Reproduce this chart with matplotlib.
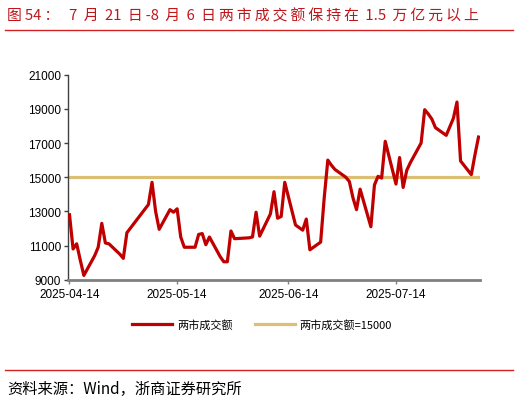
import matplotlib
matplotlib.use("Agg")
import matplotlib.pyplot as plt
import matplotlib.dates as mdates
from matplotlib.lines import Line2D
import pandas as pd

plt.rcParams['font.family'] = ['Noto Sans CJK SC', 'DejaVu Sans']

# 两市成交额（亿元），交易日
dates = [
    "2025-04-14", "2025-04-15", "2025-04-16", "2025-04-17", "2025-04-18",
    "2025-04-21", "2025-04-22", "2025-04-23", "2025-04-24", "2025-04-25",
    "2025-04-28", "2025-04-29", "2025-04-30",
    "2025-05-06", "2025-05-07", "2025-05-08", "2025-05-09",
    "2025-05-12", "2025-05-13", "2025-05-14", "2025-05-15", "2025-05-16",
    "2025-05-19", "2025-05-20", "2025-05-21", "2025-05-22", "2025-05-23",
    "2025-05-26", "2025-05-27", "2025-05-28", "2025-05-29", "2025-05-30",
    "2025-06-03", "2025-06-04", "2025-06-05", "2025-06-06",
    "2025-06-09", "2025-06-10", "2025-06-11", "2025-06-12", "2025-06-13",
    "2025-06-16", "2025-06-17", "2025-06-18", "2025-06-19", "2025-06-20",
    "2025-06-23", "2025-06-24", "2025-06-25", "2025-06-26", "2025-06-27",
    "2025-06-30", "2025-07-01", "2025-07-02", "2025-07-03", "2025-07-04",
    "2025-07-07", "2025-07-08", "2025-07-09", "2025-07-10", "2025-07-11",
    "2025-07-14", "2025-07-15", "2025-07-16", "2025-07-17", "2025-07-18",
    "2025-07-21", "2025-07-22", "2025-07-23", "2025-07-24", "2025-07-25",
    "2025-07-28", "2025-07-29", "2025-07-30", "2025-07-31", "2025-08-01",
    "2025-08-04", "2025-08-05", "2025-08-06",
]
turnover = [
    12800, 10800, 11100, 10150, 9250,
    10400, 10900, 12300, 11150, 11100,
    10500, 10250, 11750,
    13400, 14700, 13000, 11950,
    13100, 12950, 13150, 11500, 10900,
    10900, 11650, 11700, 11050, 11500,
    10350, 10050, 10050, 11850, 11400,
    11450, 11500, 12950, 11550,
    12850, 14150, 12600, 12700, 14700,
    12200, 12050, 11900, 12550, 10750,
    11200, 13800, 16000, 15700, 15450,
    15000, 14750, 13800, 13100, 14300,
    12100, 14550, 15050, 14950, 17100,
    14600, 16150, 14400, 15400, 15850,
    17000, 18950, 18700, 18400, 17900,
    17450, 17950, 18450, 19400, 15950,
    15150, 16300, 17350,
]
threshold = 15000
x_ticks = ["2025-04-14", "2025-05-14", "2025-06-14", "2025-07-14"]
y_ticks = [9000, 11000, 13000, 15000, 17000, 19000, 21000]

title = "图54：  7 月 21 日-8 月 6 日两市成交额保持在 1.5 万亿元以上"
source = "资料来源：Wind，浙商证券研究所"


def spaced(s):
    # 中文字符之间加细空格，模拟原图的字距
    out = ""
    for i, ch in enumerate(s):
        out += ch
        if i + 1 < len(s) and (ord(ch) > 0x2E80 or ord(s[i + 1]) > 0x2E80):
            out += "\u2009"
    return out


d = pd.to_datetime(dates)

fig = plt.figure(figsize=(5.2, 4.02), dpi=100)
ax = fig.add_axes([68 / 520, 1 - 280.7 / 402, 412 / 520, 205 / 402])

ax.plot(d, turnover, color='#C00000', lw=2.3, label='两市成交额', zorder=3)
ax.plot([d[0], d[-1]], [threshold, threshold], color='#DBBF74', lw=2.3,
        label='两市成交额=15000', zorder=2)

ax.set_xlim(d[0] - pd.Timedelta(hours=10), d[-1] + pd.Timedelta(hours=10))
ax.set_ylim(9000, 21000)
ax.set_yticks(y_ticks)
ax.set_xticks(pd.to_datetime(x_ticks))
ax.xaxis.set_major_formatter(mdates.DateFormatter('%Y-%m-%d'))

for lab in ax.get_xticklabels() + ax.get_yticklabels():
    lab.set_family('Liberation Sans')
    lab.set_fontsize(8.5)

ax.spines['top'].set_visible(False)
ax.spines['right'].set_visible(False)
ax.spines['left'].set_color('#404040')
ax.spines['left'].set_linewidth(1)
ax.spines['bottom'].set_color('#7F7F7F')
ax.spines['bottom'].set_linewidth(2)
ax.tick_params(axis='y', direction='out', length=3, width=1, color='#404040', pad=2)
ax.tick_params(axis='x', direction='out', length=3, width=1, color='#7F7F7F', pad=3)

fig.legend(loc='center', bbox_to_anchor=(262 / 520, 1 - 325 / 402), ncol=2,
           frameon=False, fontsize=8, handlelength=3.6, handletextpad=0.45,
           columnspacing=2.0)

fig.text(7 / 520, 1 - 16 / 402, spaced(title), color='#C0161B', fontsize=10.7, va='center')
fig.add_artist(Line2D([5 / 520, 513 / 520], [1 - 31 / 402] * 2, color='#D02020', lw=1))
fig.add_artist(Line2D([5 / 520, 513 / 520], [1 - 371 / 402] * 2, color='#D02020', lw=1))
fig.text(7 / 520, 1 - 389 / 402, source, color='black', fontsize=11, va='center')

fig.savefig('out.png', dpi=100)
